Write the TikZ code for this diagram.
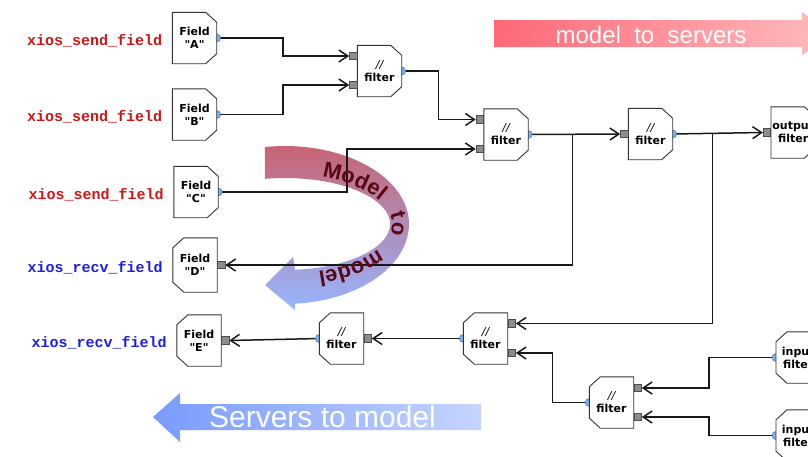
\documentclass[tikz,border=0pt]{standalone}
\usepackage{fontspec}
\usepackage{tikz}
\usetikzlibrary{arrows.meta,positioning,calc,decorations.text}
\newfontfamily\boxfont{DejaVu Sans}
\newfontfamily\arialfont{Liberation Sans}
\newfontfamily\apifont{Liberation Mono}
\definecolor{sendred}{RGB}{206,22,22}
\definecolor{recvblue}{RGB}{30,30,225}
\definecolor{portblue}{RGB}{125,178,240}
\definecolor{portedge}{RGB}{70,110,170}
\definecolor{pinkL}{RGB}{255,104,118}
\definecolor{pinkR}{RGB}{255,188,192}
\definecolor{blueL}{RGB}{120,155,255}
\definecolor{blueR}{RGB}{198,212,255}
\definecolor{loopTop}{RGB}{200,100,116}
\definecolor{loopMid}{RGB}{170,150,205}
\definecolor{loopBot}{RGB}{150,182,255}
\definecolor{loopText}{RGB}{90,8,20}
\pgfdeclarelayer{background}
\pgfdeclarelayer{boxes}
\pgfsetlayers{background,boxes,main}
\tikzstyle{blk}=[rectangle, minimum width=44pt, minimum height=51pt, inner sep=0pt, align=center, font=\boxfont\bfseries\fontsize{11}{13}\selectfont]
\tikzstyle{outline}=[draw=black!80, line width=0.9pt, fill=white, line join=miter]
\tikzstyle{inport}=[rectangle, draw=black!70, fill=black!45, line width=0.6pt, minimum size=7.5pt, inner sep=0pt]
\tikzstyle{outport}=[circle, draw=portedge, fill=portblue, line width=0.5pt, minimum size=8pt, inner sep=0pt]
\tikzstyle{wire}=[line width=1.5pt, black!90]
\tikzstyle{feed}=[wire, -{Straight Barb[length=9pt,width=12pt]}]
\tikzstyle{apisend}=[font=\apifont\bfseries\fontsize{15}{18}\selectfont, text=sendred, inner sep=0pt]
\tikzstyle{apirecv}=[apisend, text=recvblue]
\tikzstyle{looptext}=[decorate, decoration={text along path, text color=loopText, text align=center, #1}]
% block outlines with the two right (or left) corners cut off
\newcommand{\cutright}[1]{\path[outline] (#1.north west) -- ([xshift=-11pt]#1.north east) -- ([yshift=-10pt]#1.north east) -- ([yshift=10pt]#1.south east) -- ([xshift=-11pt]#1.south east) -- (#1.south west) -- cycle;}
\newcommand{\cutleft}[1]{\path[outline] (#1.north east) -- ([xshift=11pt]#1.north west) -- ([yshift=-10pt]#1.north west) -- ([yshift=10pt]#1.south west) -- ([xshift=11pt]#1.south west) -- (#1.south east) -- cycle;}
\newcommand{\loopfont}{\arialfont\bfseries\fontsize{22}{26}\selectfont}
\begin{document}
\begin{tikzpicture}[x=1pt, y=-1pt]
\useasboundingbox (0,0) rectangle (808,456);
\clip (0,0) rectangle (808,456);

% flow direction arrows
\shade[left color=pinkL, right color=pinkR] (494,20) -- (802,20) -- (802,12) -- (832,33.5) -- (802,55) -- (802,47) -- (494,47) -- cycle;
\node[anchor=base, text=white, font=\arialfont\fontsize{24}{28}\selectfont] (upflow) at (651,43.3) {model\ \ to\ \ servers};
\shade[left color=blueL, right color=blueR] (153,417) -- (180,393) -- (180,404) -- (481,404) -- (481,430) -- (180,430) -- (180,442) -- cycle;
\node[anchor=base, text=white, font=\arialfont\fontsize{30}{34}\selectfont] (downflow) at (322.5,427) {Servers to model};

% fields on the model side
\node[blk] (A) at (194.5,38) {Field\\"A"};
\node[blk] (B) at (194.5,114.5) {Field\\"B"};
\node[blk] (C) at (196,192) {Field\\"C"};
\node[blk, minimum height=54pt] (D) at (195,265) {Field\\"D"};
\node[blk] (E) at (199,340.5) {Field\\"E"};

\node[apisend, left=10pt of A, yshift=-2.5pt] (sendA) {xios\_send\_field};
\node[apisend, left=10pt of B, yshift=-2.5pt] (sendB) {xios\_send\_field};
\node[apisend, left=10pt of C, yshift=-2.5pt] (sendC) {xios\_send\_field};
\node[apirecv, left=10pt of D, yshift=-2.5pt] (recvD) {xios\_recv\_field};
\node[apirecv, left=10pt of E, yshift=-2.5pt] (recvE) {xios\_recv\_field};

% filters
\node[blk] (F1) at (379.5,71) {{\mdseries\itshape //}\\filter};
\node[blk] (F2) at (506,134.5) {{\mdseries\itshape //}\\filter};
\node[blk] (F3) at (650.5,134) {{\mdseries\itshape //}\\filter};
\node[blk, anchor=west] (Out) at (771,132.5) {output\\filter};
\node[blk] (F4) at (485.5,338.5) {{\mdseries\itshape //}\\filter};
\node[blk] (F5) at (341.5,338.5) {{\mdseries\itshape //}\\filter};
\node[blk] (F6) at (611.5,402.5) {{\mdseries\itshape //}\\filter};
\node[blk, anchor=west] (In1) at (776,357.5) {input\\filter};
\node[blk, anchor=west] (In2) at (776,435.5) {input\\filter};

\begin{pgfonlayer}{boxes}
\foreach \b in {A,B,C,F1,F2,F3,Out} {\cutright{\b}}
\foreach \b in {D,E,F4,F5,F6,In1,In2} {\cutleft{\b}}
\end{pgfonlayer}

% input ports
\node[inport, anchor=east] (F1a) at ([yshift=15pt]F1.west) {};
\node[inport, anchor=east] (F1b) at ([yshift=-14pt]F1.west) {};
\node[inport, anchor=east] (F2a) at ([yshift=15pt]F2.west) {};
\node[inport, anchor=east] (F2b) at ([yshift=-14.5pt]F2.west) {};
\node[inport, anchor=east] (F3a) at (F3.west) {};
\node[inport, anchor=east] (Outa) at (Out.west) {};
\node[inport, anchor=west] (F4a) at ([yshift=15pt]F4.east) {};
\node[inport, anchor=west] (F4b) at ([yshift=-14.5pt]F4.east) {};
\node[inport, anchor=west] (F5a) at (F5.east) {};
\node[inport, anchor=west] (F6a) at ([yshift=14.5pt]F6.east) {};
\node[inport, anchor=west] (F6b) at ([yshift=-14.5pt]F6.east) {};
\node[inport, anchor=west] (Din) at (D.east) {};
\node[inport, anchor=west] (Ein) at (E.east) {};

\coordinate (j1) at ($(F2.east)!0.48!(F3a.west)$);
\coordinate (j2) at ($(F3.east)!0.44!(Outa.west)$);

\begin{pgfonlayer}{background}
% model to model loop
\shade[top color=loopTop, middle color=loopMid, bottom color=loopBot]
  plot[domain=-99.3:0, samples=30] ({285+124*cos(\x)}, {224+78*sin(\x)})
  -- plot[domain=0:85.4, samples=30] ({285+124*cos(\x)}, {224+80*sin(\x)})
  -- (295,310) -- (265,285) -- (293,257)
  -- plot[domain=84.5:-101, samples=60] ({285+105*cos(\x)}, {224+46*sin(\x)})
  -- cycle;

% send side
\draw[feed] (A.east) -| ($(A.east)!.5!(F1a.west)$) |- (F1a.west);
\draw[feed] (B.east) -| ($(B.east)!.5!(F1b.west)$) |- (F1b.west);
\draw[feed] (F1.east) -| ($(F1.east)!.5!(F2a.west)$) |- (F2a.west);
\draw[feed] (C.east) -| ($(C.east)!.5!(F2b.west)$) |- (F2b.west);
\draw[feed] (F2.east) -- (F3a.west);
\draw[feed] (j1) |- (Din.east);
\draw[feed] (F3.east) -- (Outa.west);
\draw[feed] (j2) |- (F4a.east);

% receive side
\draw[feed] (F4.west) -- (F5a.east);
\draw[feed] (F5.west) -- (Ein.east);
\draw[feed] (F6.west) -| ($(F6.west)!.5!(F4b.east)$) |- (F4b.east);
\draw[feed] (In1.west) -| ($(In1.west)!.5!(F6a.east)$) |- (F6a.east);
\draw[feed] (In2.west) -| ($(In2.west)!.5!(F6b.east)$) |- (F6b.east);

% output ports
\foreach \b in {A,B,C,F1,F2,F3} {\node[outport] (\b out) at (\b.east) {};}
\foreach \b in {F4,F5,F6,In1,In2} {\node[outport] (\b out) at (\b.west) {};}
\end{pgfonlayer}

% words round the loop
\path[looptext={text={|\loopfont|Model}}]
  plot[domain=-73:-22, samples=40] ({285+107*cos(\x)}, {224+50*sin(\x)});
\path[looptext={text={|\loopfont|to}}]
  plot[domain=-14:14, samples=20] ({285+107*cos(\x)}, {224+50*sin(\x)});
\path[looptext={text={|\loopfont|model}}]
  plot[domain=28:73, samples=40] ({285+107*cos(\x)}, {224+50*sin(\x)});
\end{tikzpicture}
\end{document}
